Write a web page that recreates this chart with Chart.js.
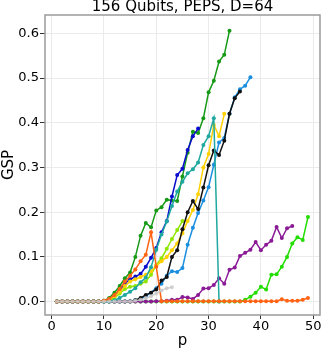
<!DOCTYPE html>
<html>
<head>
<meta charset="utf-8">
<script src="https://cdn.jsdelivr.net/npm/chart.js@4/dist/chart.umd.min.js"></script>
<style>
  html, body { margin: 0; padding: 0; background: #fff; }
  canvas { display: block; }
</style>
</head>
<body>
<canvas id="gsp-chart" width="324" height="352"></canvas>
<script>
// p values (circuit depth) and GSP curves
var pValues = [1,2,3,4,5,6,7,8,9,10,11,12,13,14,15,16,17,18,19,20,21,22,23,24,25,
               26,27,28,29,30,31,32,33,34,35,36,37,38,39,40,41,42,43,44,45,46,47,48,49];

var grayGsp   = [0,0,0,0,0,0,0,0,0,0,0,0,0,0,0,0.002,0.004,0.008,0.012,0.018,0.025,0.03,0.032];
var orangeGsp = [0,0,0,0,0,0,0,0,0,0.002,0.006,0.015,0.028,0.045,0.058,0.072,0.09,0.105,0.155,0.078,
                 0.001,0.001,0.001,0.001,0.001,0.001,0.001,0.001,0.001,0.001,0.001,0.001,0.001,0.001,
                 0.001,0.001,0.001,0.001,0.001,0.001,0.001,0.001,0.001,0.005,0.002,0.002,0.002,0.004,0.008];
var tealGsp   = [0,0,0,0,0,0,0,0,0,0,0,0.003,0.008,0.015,0.022,0.03,0.043,0.054,0.077,0.116,0.15,0.179,
                 0.214,0.246,0.268,0.287,0.296,0.311,0.35,0.37,0.41,0.0];
var purpleGsp = [0,0,0,0,0,0,0,0,0,0,0,0,0,0,0,0,0,0,0,0.001,0.001,0.002,0.004,0.004,0.01,0.009,0.006,
                 0.015,0.029,0.03,0.037,0.052,0.04,0.071,0.076,0.102,0.109,0.116,0.133,0.115,0.127,
                 0.136,0.167,0.142,0.164,0.169];
var limeGsp2  = [0,0,0,0,0,0,0,0,0,0,0,0,0,0,0,0,0,0,0,0,0,0,0,0,0,0,0,0,0,0,0,0,0,0,0,0,
                 0.004,0.011,0.02,0.033,0.027,0.06,0.061,0.078,0.1,0.13,0.144,0.138,0.189];
var greenGsp  = [0,0,0,0,0,0,0,0,0,0.002,0.008,0.02,0.035,0.052,0.065,0.1,0.147,0.176,0.166,0.204,
                 0.211,0.228,0.226,0.225,0.28,0.333,0.38,0.377,0.41,0.468,0.494,0.537,0.552,0.606];
var blueGsp   = [0,0,0,0,0,0,0,0,0,0.002,0.006,0.012,0.025,0.04,0.05,0.056,0.062,0.078,0.098,0.12,
                 0.155,0.18,0.235,0.283,0.297,0.339,0.37,0.387];
var yellowGsp = [0,0,0,0,0,0,0,0,0,0.002,0.005,0.012,0.022,0.035,0.045,0.05,0.055,0.06,0.068,0.08,
                 0.09,0.1,0.115,0.13,0.153,0.18,0.205,0.24,0.3,0.33,0.395,0.37,0.42];
var limeGsp   = [0,0,0,0,0,0,0,0,0,0,0.002,0.008,0.018,0.028,0.033,0.035,0.04,0.045,0.06,0.082,
                 0.097,0.118,0.14,0.16,0.18];
var blackGsp  = [0,0,0,0,0,0,0,0,0,0,0,0,0,0,0,0.003,0.008,0.015,0.02,0.027,0.047,0.055,0.1,0.115,
                 0.162,0.2,0.225,0.207,0.255,0.305,0.338,0.328,0.36,0.42,0.455,0.47];
var skyGsp    = [0,0,0,0,0,0,0,0,0,0,0,0,0,0,0.001,0.003,0.006,0.012,0.02,0.03,0.04,0.058,0.068,
                 0.066,0.075,0.127,0.165,0.198,0.226,0.256,0.306,0.356,0.366,0.42,0.457,0.475,0.483,0.502];

var xTicks = [0, 10, 20, 30, 40, 50];
var yTicks = [0, 0.1, 0.2, 0.3, 0.4, 0.5, 0.6];

// first in list = drawn on top
var series = [
  { data: grayGsp,   color: 'rgba(200,200,200,0.8)' },
  { data: orangeGsp, color: '#ff6414' },
  { data: tealGsp,   color: '#1fa89f' },
  { data: purpleGsp, color: '#8b1a96' },
  { data: limeGsp2,  color: '#22dd00' },
  { data: blackGsp,  color: '#111111' },
  { data: skyGsp,    color: '#1a8fe0' },
  { data: yellowGsp, color: '#ffd000' },
  { data: limeGsp,   color: '#8fe600' },
  { data: blueGsp,   color: '#0c0ccc' },
  { data: greenGsp,  color: '#169a16' }
];

var datasets = series.map(function(s){
  return {
    data: s.data.map(function(v, i){ return { x: pValues[i], y: v }; }),
    borderColor: s.color,
    backgroundColor: s.color,
    borderWidth: 1.5,
    pointRadius: 2,
    pointBorderWidth: 0,
    tension: 0
  };
});

var font = "'DejaVu Sans', sans-serif";

var framePlugin = {
  id: 'frame',
  afterDraw: function(chart){
    var a = chart.chartArea, c = chart.ctx;
    c.save();
    c.strokeStyle = '#9a9a9a';
    c.lineWidth = 1.5;
    c.strokeRect(a.left, a.top, a.right - a.left, a.bottom - a.top);
    c.fillStyle = '#000';
    c.font = '15px ' + font;
    c.textAlign = 'center';
    c.textBaseline = 'middle';
    c.fillText('156 Qubits, PEPS, D=64', (a.left + a.right) / 2, 7.5);
    c.restore();
  }
};

new Chart(document.getElementById('gsp-chart'), {
  type: 'line',
  data: { datasets: datasets },
  plugins: [framePlugin],
  options: {
    responsive: false,
    animation: false,
    layout: { padding: { top: 15, right: 2, left: 0, bottom: 0 } },
    plugins: { legend: { display: false }, tooltip: { enabled: false } },
    scales: {
      x: {
        type: 'linear',
        min: -1.27, max: 51.3,
        afterBuildTicks: function(s){ s.ticks = xTicks.map(function(v){ return { value: v }; }); },
        afterFit: function(s){ s.height = 37; },
        grid: { color: '#ebebeb', tickColor: '#333', tickLength: 4 },
        border: { display: false },
        ticks: { color: '#000', font: { family: font, size: 13 }, padding: 0, maxRotation: 0 },
        title: { display: true, text: 'p', color: '#000', font: { family: font, size: 15 }, padding: { top: 0, bottom: 2 } }
      },
      y: {
        type: 'linear',
        min: -0.03, max: 0.641,
        afterBuildTicks: function(s){ s.ticks = yTicks.map(function(v){ return { value: v }; }); },
        afterFit: function(s){ s.width = 45; },
        grid: { color: '#ebebeb', tickColor: '#333', tickLength: 5 },
        border: { display: false },
        ticks: { color: '#000', font: { family: font, size: 13 }, padding: 1,
                 callback: function(v){ return v.toFixed(1); } },
        title: { display: true, text: 'GSP', color: '#000', font: { family: font, size: 15 }, padding: 0 }
      }
    }
  }
});
</script>
</body>
</html>
